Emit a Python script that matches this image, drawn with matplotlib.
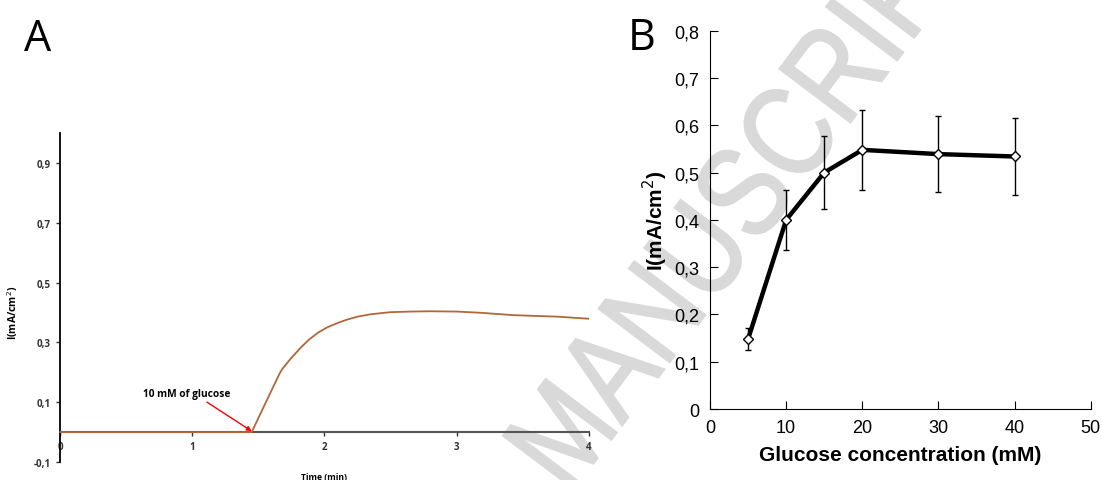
import matplotlib.pyplot as plt
from matplotlib.textpath import TextPath
from matplotlib.patches import PathPatch
from matplotlib.font_manager import FontProperties
from matplotlib.transforms import Affine2D

# Panel A: chronoamperometry
time_min = [0, 0.5, 1.0, 1.45, 1.55, 1.66, 1.68, 1.74, 1.82, 1.88, 1.95, 2.02,
            2.1, 2.17, 2.25, 2.35, 2.5, 2.65, 2.8, 3.0, 3.18, 3.43, 3.76, 4.0]
current = [0, 0, 0, 0, 0.093, 0.195, 0.21, 0.243, 0.282, 0.308, 0.332, 0.350,
           0.365, 0.376, 0.386, 0.394, 0.401, 0.403, 0.404, 0.403, 0.399, 0.391,
           0.386, 0.379]
a_yticks = [-0.1, 0.1, 0.3, 0.5, 0.7, 0.9]
a_xticks = [0, 1, 2, 3, 4]

# Panel B: response vs glucose concentration
glucose = [5, 10, 15, 20, 30, 40]
resp = [0.148, 0.40, 0.50, 0.548, 0.539, 0.534]
resp_err = [0.024, 0.063, 0.077, 0.084, 0.080, 0.081]
b_yticks = [0, 0.1, 0.2, 0.3, 0.4, 0.5, 0.6, 0.7, 0.8]
b_xticks = [0, 10, 20, 30, 40, 50]

fig = plt.figure(figsize=(11.02, 4.81), dpi=100)

# watermark behind everything (glyphs a bit taller than normal, like the original)
wm = TextPath((0, 0), 'MANUSCRIPT', size=1,
              prop=FontProperties(family='Liberation Sans'))
bb = wm.get_extents()
wm_tr = (Affine2D().translate(-(bb.x0 + bb.x1) / 2, -(bb.y0 + bb.y1) / 2)
         .scale(106, 106 * 1.22).rotate_deg(53).translate(746, 481 - 188))
fig.add_artist(PathPatch(wm, transform=wm_tr, facecolor='#d9d9d9',
                         edgecolor='#d9d9d9', linewidth=1.5, zorder=-5))

# ---- A ----
axa = fig.add_axes([0.0544, 0.0374, 0.480, 0.684])
axa.set_zorder(2)
axa.patch.set_alpha(0)
axa.plot(time_min, current, color='#b0683a', lw=1.3, zorder=3)
axa.set_xlim(0, 4)
axa.set_ylim(-0.1, 1.0)
axa.spines['top'].set_visible(False)
axa.spines['right'].set_visible(False)
axa.spines['bottom'].set_position(('data', 0))
axa.spines['bottom'].set_color('#555555')
axa.spines['bottom'].set_linewidth(1.5)
axa.spines['left'].set_linewidth(1.3)
axa.set_yticks(a_yticks)
axa.set_yticklabels([('%.1f' % v).replace('.', ',') for v in a_yticks])
axa.set_xticks(a_xticks)
axa.set_xticklabels([str(v) for v in a_xticks])
axa.tick_params(labelsize=7, length=3, width=1, colors='#333333')
for lab in axa.get_xticklabels() + axa.get_yticklabels():
    lab.set_fontweight('bold')
    lab.set_family('Open Sans')
axa.set_ylabel('I(mA/cm$^2$)', fontsize=7.5, fontweight='bold', family='Open Sans')
axa.yaxis.set_label_coords(-0.075, 0.455)
axa.text(2.0, -0.148, 'Time (min)', fontsize=6.2, fontweight='bold', family='Open Sans',
         ha='center', va='center', clip_on=False)
axa.annotate('10 mM of glucose', xy=(1.45, 0.003), xytext=(0.63, 0.128),
             fontsize=7.3, fontweight='bold', family='Open Sans', ha='left', va='center',
             arrowprops=dict(arrowstyle='-|>', color='red', lw=1, mutation_scale=7,
                             shrinkA=0, shrinkB=0, relpos=(0.68, 0.0)))
fig.text(0.034, 0.918, 'A', fontsize=31, family='Open Sans', ha='center', va='center')

# ---- B ----
axb = fig.add_axes([0.6443, 0.1476, 0.3455, 0.7865])
axb.set_zorder(2)
axb.patch.set_alpha(0)
axb.errorbar(glucose, resp, yerr=resp_err, fmt='none', ecolor='black',
             elinewidth=1, capsize=2.5, capthick=1, zorder=3)
axb.plot(glucose, resp, color='black', lw=3.2, marker='D', markersize=5,
         markerfacecolor='white', markeredgecolor='black', markeredgewidth=1, zorder=4)
axb.set_xlim(0, 50)
axb.set_ylim(0, 0.8)
axb.spines['top'].set_visible(False)
axb.spines['right'].set_visible(False)
axb.set_yticks(b_yticks)
axb.set_yticklabels(['0'] + [('%.1f' % v).replace('.', ',') for v in b_yticks[1:]])
axb.set_xticks(b_xticks)
axb.tick_params(direction='in', length=6, labelsize=13)
axb.tick_params(axis='y', pad=8)
axb.tick_params(axis='x', pad=7)
for lab in axb.get_xticklabels() + axb.get_yticklabels():
    lab.set_family('Liberation Sans')
axb.set_xlabel('Glucose concentration (mM)', fontsize=15, fontweight='bold',
               family='Liberation Sans', labelpad=7)
axb.set_ylabel('I(mA/cm$^2$)', fontsize=15, fontweight='bold', family='Liberation Sans',
               labelpad=3)
fig.text(0.582, 0.92, 'B', fontsize=31, family='Open Sans', ha='center', va='center')

fig.savefig('out.png', dpi=100)
